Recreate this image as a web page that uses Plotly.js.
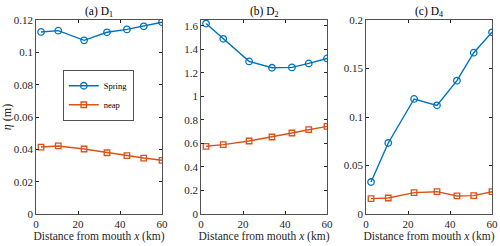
<!DOCTYPE html>
<html><head><meta charset="utf-8">
<script src="https://cdn.plot.ly/plotly-3.0.1.min.js"></script>
<style>body{margin:0;padding:0;background:#fff}#plot{width:500px;height:246px}</style>
</head><body><div id="plot"></div>
<script>
const distance = [2.4, 10.6, 22.9, 33.8, 43.3, 51.3, 60];
const d1Spring = [0.1126, 0.1134, 0.1074, 0.1124, 0.1142, 0.1161, 0.1186];
const d1Neap   = [0.0414, 0.0421, 0.0402, 0.0379, 0.0361, 0.0346, 0.0332];
const d2Spring = [1.62, 1.49, 1.298, 1.244, 1.247, 1.281, 1.323];
const d2Neap   = [0.576, 0.590, 0.621, 0.655, 0.689, 0.717, 0.745];
const d4Spring = [0.033, 0.0732, 0.1186, 0.112, 0.1375, 0.1663, 0.1873];
const d4Neap   = [0.0158, 0.0165, 0.022, 0.023, 0.0186, 0.0189, 0.023];
const panelTitles = ['(a) D<sub>1</sub>', '(b) D<sub>2</sub>', '(c) D<sub>4</sub>'];
const seriesNames = ['Spring', 'neap'];
const xTitle = 'Distance from mouth <i>x</i> (km)';
const yTitle = '<i>η</i> (m)';

const blue = '#0072BD', orange = '#D95319';
const font = 'Liberation Serif';
const panels = [[d1Spring, d1Neap], [d2Spring, d2Neap], [d4Spring, d4Neap]];
const axSuffix = ['', '2', '3'];
const traces = [];
panels.forEach((p, i) => {
  traces.push({x: distance, y: p[0], name: seriesNames[0], type: 'scatter', mode: 'lines+markers',
    xaxis: 'x' + axSuffix[i], yaxis: 'y' + axSuffix[i], showlegend: i === 0,
    line: {color: blue, width: 1.4},
    marker: {symbol: 'circle-open', size: 6.5, color: blue, line: {width: 1.3, color: blue}}});
  traces.push({x: distance, y: p[1], name: seriesNames[1], type: 'scatter', mode: 'lines+markers',
    xaxis: 'x' + axSuffix[i], yaxis: 'y' + axSuffix[i], showlegend: i === 0,
    line: {color: orange, width: 1.4},
    marker: {symbol: 'square-open', size: 5.5, color: orange, line: {width: 1.3, color: orange}}});
});

const domains = [[0.072, 0.324], [0.402, 0.654], [0.732, 0.984]];
const yRanges = [[0, 0.12], [0, 1.65], [0, 0.2]];
const yDtick = [0.02, 0.2, 0.05];
function xa(i) {
  return {domain: domains[i], range: [0, 60], tickvals: [0, 20, 40, 60], ticks: 'inside', ticklen: 3,
    tickcolor: '#262626', showline: true, linecolor: '#262626', linewidth: 0.8, mirror: 'ticks',
    showgrid: false, zeroline: false, tickfont: {family: font, size: 11, color: '#262626'},
    title: {text: xTitle, font: {family: font, size: 11.5, color: '#262626'}, standoff: 2},
    anchor: 'y' + axSuffix[i]};
}
function ya(i) {
  return {domain: [0, 1], range: yRanges[i], dtick: yDtick[i], tick0: 0, ticks: 'inside', ticklen: 3,
    tickcolor: '#262626', showline: true, linecolor: '#262626', linewidth: 0.8, mirror: 'ticks',
    showgrid: false, zeroline: false, tickfont: {family: font, size: 11, color: '#262626'},
    title: i === 0 ? {text: yTitle, font: {family: font, size: 12, color: '#262626'}, standoff: 4} : undefined,
    anchor: 'x' + axSuffix[i]};
}
const layout = {
  width: 500, height: 246, margin: {l: 0, r: 0, t: 20, b: 32},
  paper_bgcolor: '#fff', plot_bgcolor: '#fff', font: {family: font},
  xaxis: xa(0), yaxis: ya(0), xaxis2: xa(1), yaxis2: ya(1), xaxis3: xa(2), yaxis3: ya(2),
  legend: {x: 0.126, y: 0.74, xanchor: 'left', yanchor: 'top', bgcolor: '#fff', bordercolor: '#262626',
    borderwidth: 0.8, font: {family: font, size: 8.5, color: '#000'}, tracegroupgap: 0, itemwidth: 30},
  annotations: panelTitles.map((t, i) => ({text: t, xref: 'paper', yref: 'paper',
    x: (domains[i][0] + domains[i][1]) / 2, y: 1, yanchor: 'bottom', xanchor: 'center', showarrow: false,
    yshift: -1, font: {family: font, size: 11.5, color: '#000'}}))
};
Plotly.newPlot('plot', traces, layout, {displayModeBar: false, staticPlot: true});
</script></body></html>
